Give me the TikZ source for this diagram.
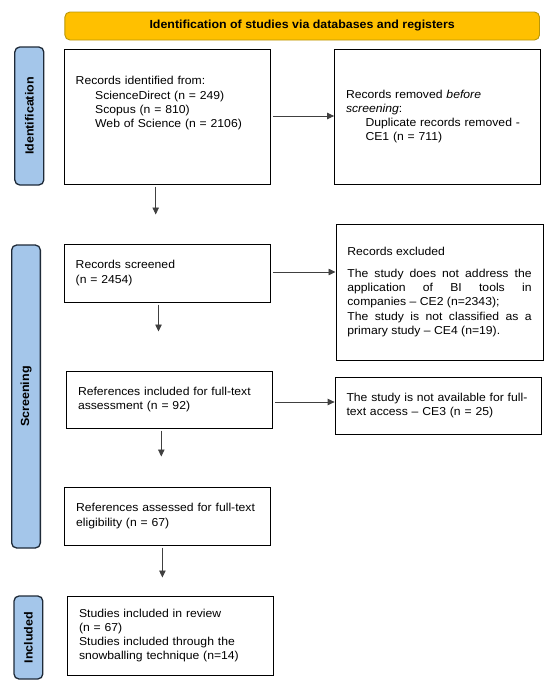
\documentclass[tikz,border=0pt]{standalone}
\usepackage{fontspec}
\setmainfont{Liberation Sans}[FakeStretch=1.06]
\usetikzlibrary{arrows.meta}
\hyphenpenalty=10000
\exhyphenpenalty=10000
\definecolor{bannerfill}{HTML}{FFC000}
\definecolor{bannerline}{HTML}{B8960A}
\definecolor{sidefill}{HTML}{A4C6EA}
\definecolor{sideline}{HTML}{1E2A38}
\definecolor{arrline}{HTML}{404040}
\begin{document}
\begin{tikzpicture}[x=1pt,y=-1pt,
  every node/.style={font=\fontsize{11.5}{14.3}\selectfont},
  box/.style={draw=black, line width=1pt, minimum width=206pt, text width=183.2pt,
    inner xsep=11.4pt, inner ysep=0pt, align=left},
  banner/.style={draw=bannerline, fill=bannerfill, line width=0.9pt, rounded corners=5pt,
    minimum width=474.6pt, minimum height=28pt, inner sep=0pt,
    font=\fontsize{11.7}{13}\selectfont\bfseries},
  side/.style={draw=sideline, fill=sidefill, line width=1.3pt, rounded corners=5pt,
    inner sep=0pt, rotate=90, font=\fontsize{11.8}{13}\selectfont\bfseries},
  arr/.style={draw=arrline, line width=0.8pt, -{Triangle[length=7pt,width=6.5pt]}, shorten <=2pt}
]
\useasboundingbox (0,0) rectangle (550,688);

% banner
\node[banner] (ban) at (302.2,26) {Identification of studies via databases and registers};

% side labels
\node[side, minimum width=138pt, minimum height=29pt] (sid) at (29.3,116) {Identification};
\node[side, minimum width=303pt, minimum height=28.7pt] (scr) at (26,396.5) {Screening};
\node[side, minimum width=83pt, minimum height=28.8pt] (inc) at (28.4,637.5) {Included};

% boxes
\node[box, minimum height=135pt] (b1) at (167.3,116.5) {Records identified from:\\
\hspace*{19.5pt}ScienceDirect (n = 249)\\
\hspace*{19.5pt}Scopus (n = 810)\\
\hspace*{19.5pt}Web of Science (n = 2106)\\[14.3pt]\mbox{}};
\node[box, minimum height=135pt] (b2) at (437.6,116.5) {Records removed \textit{before}\\
\textit{screening}:\\
\hspace*{19.5pt}Duplicate records removed -\\
\hspace*{19.5pt}CE1 (n = 711)};
\node[box, minimum height=58pt] (b3) at (167.3,273) {Records screened\\(n = 2454)};
\node[box, minimum width=207pt, text width=184.2pt, minimum height=136pt, align=justify] (b4) at (439.5,292) {Records excluded\\[7.7pt]
The study does not address the\linebreak application of BI tools in\linebreak companies -- CE2 (n=2343);\\
The study is not classified as a\linebreak primary study -- CE4 (n=19).};
\node[box, minimum height=57pt] (b5) at (169.6,399.5) {References included for full-text\\assessment (n = 92)};
\node[box, minimum height=57pt] (b6) at (438.1,405.5) {The study is not available for full-\\text access -- CE3 (n = 25)};
\node[box, minimum height=58pt] (b7) at (167.7,516) {References assessed for full-text\\eligibility (n = 67)};
\node[box, minimum height=79pt] (b8) at (170.6,635.5) {Studies included in review\\(n = 67)\\Studies included through the\\snowballing technique (n=14)};

% horizontal arrows
\draw[arr] ([yshift=0.5pt]b1.east) -- ([yshift=0.5pt]b1.east -| b2.west);
\draw[arr] ([yshift=1pt]b3.east) -- ([yshift=1pt]b3.east -| b4.west);
\draw[arr] ([yshift=-2.5pt]b5.east) -- ([yshift=-2.5pt]b5.east -| b6.west);

% vertical arrows
\draw[arr, shorten >=29pt] ([xshift=-11.6pt]b1.south) -- ([xshift=-11.6pt]b1.south |- b3.north);
\draw[arr, shorten >=39pt] ([xshift=-8.8pt]b3.south) -- ([xshift=-8.8pt]b3.south |- b5.north);
\draw[arr, shorten >=30pt] ([xshift=-8.3pt]b5.south) -- ([xshift=-8.3pt]b5.south |- b7.north);
\draw[arr, shorten >=18pt] ([xshift=-5.3pt]b7.south) -- ([xshift=-5.3pt]b7.south |- b8.north);
\end{tikzpicture}
\end{document}
